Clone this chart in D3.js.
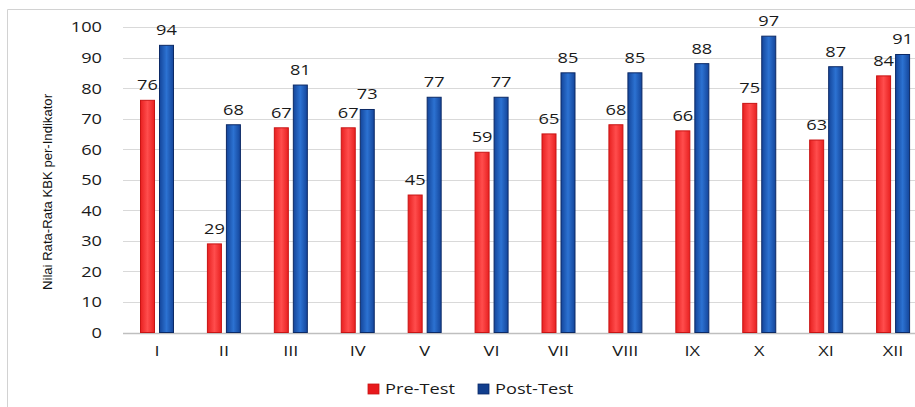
<!DOCTYPE html>
<html><head><meta charset="utf-8">
<script src="https://cdn.jsdelivr.net/npm/d3@7"></script>
<style>html,body{margin:0;padding:0;background:#fff;}svg{display:block;}</style>
</head><body>
<script>
const categories = ["I","II","III","IV","V","VI","VII","VIII","IX","X","XI","XII"];
const preTest  = [76,29,67,67,45,59,65,68,66,75,63,84];
const postTest = [94,68,81,73,77,77,85,85,88,97,87,91];
const seriesNames = ["Pre-Test","Post-Test"];
const yTicks = [0,10,20,30,40,50,60,70,80,90,100];
const yTitle = "Nilai Rata-Rata KBK per-Indikator";

const W = 915, H = 407;
const STRETCH = 1.3;
const svg = d3.select("body").append("svg").attr("width", W).attr("height", H);
const defs = svg.append("defs");
function grad(id, c0, c1) {
  const g = defs.append("linearGradient").attr("id", id).attr("x1","0").attr("x2","1").attr("y1","0").attr("y2","0");
  g.append("stop").attr("offset","0").attr("stop-color", c0);
  g.append("stop").attr("offset","0.5").attr("stop-color", c1);
  g.append("stop").attr("offset","1").attr("stop-color", c0);
}
grad("gRed", "#e82020", "#ff4d4d");
grad("gBlue", "#14459a", "#2c72d2");
const fills = {"Pre-Test":"url(#gRed)","Post-Test":"url(#gBlue)"};
const strokes = {"Pre-Test":"#c81414","Post-Test":"#0c2a66"};
const legendFill = {"Pre-Test":"#e8191c","Post-Test":"#123f8e"};

function stretch(sel) {
  sel.each(function() {
    const len = this.getComputedTextLength();
    d3.select(this).attr("textLength", len * STRETCH).attr("lengthAdjust", "spacingAndGlyphs");
  });
}

// border
svg.append("path").attr("d", `M7.5,${H} L7.5,9.5 L${W},9.5`).attr("fill","none").attr("stroke","#d2d2d2").attr("stroke-width",1);

const x0 = d3.scaleBand().domain(categories).range([123.5, 926.5]).padding(0);
const x1 = d3.scaleBand().domain(seriesNames).range([17, 50]).paddingInner(5/19).paddingOuter(0);
const y = d3.scaleLinear().domain([0,100]).range([332.5, 27]);

// grid
const grid = svg.append("g");
grid.selectAll("line").data(yTicks).join("line")
  .attr("x1", 123).attr("x2", W)
  .attr("y1", d => Math.round(y(d))+0.5).attr("y2", d => Math.round(y(d))+0.5)
  .attr("stroke", d => d===0 ? "#bfbfbf" : "#d9d9d9").attr("stroke-width", d => d===0?1.5:1);

// y axis labels
const yAxis = d3.axisLeft(y).tickValues(yTicks).tickSize(0).tickPadding(0);
const ga = svg.append("g").attr("transform","translate(102,0)").call(yAxis);
ga.select(".domain").remove();
ga.selectAll("text").attr("font-family","'Open Sans', sans-serif").attr("font-size","14px").attr("fill","#1a1a1a").attr("dy","0.35em").call(stretch);

// x axis labels
const xAxis = d3.axisBottom(x0).tickSize(0).tickPadding(0);
const gx = svg.append("g").attr("transform","translate(0,346)").call(xAxis);
gx.select(".domain").remove();
gx.selectAll("text").attr("font-family","'Open Sans', sans-serif").attr("font-size","14px").attr("fill","#1a1a1a").attr("dy","0.71em").call(stretch);

// bars
const data = categories.map((c,i) => ({cat:c, vals:[{s:"Pre-Test", v:preTest[i]},{s:"Post-Test", v:postTest[i]}]}));
const groups = svg.append("g").selectAll("g").data(data).join("g")
  .attr("transform", d => `translate(${x0(d.cat)},0)`);
groups.selectAll("rect").data(d => d.vals).join("rect")
  .attr("x", d => x1(d.s)).attr("width", x1.bandwidth())
  .attr("y", d => y(d.v)).attr("height", d => y(0) - y(d.v))
  .attr("fill", d => fills[d.s]).attr("stroke", d => strokes[d.s]).attr("stroke-width", 1);
groups.selectAll("text").data(d => d.vals).join("text")
  .attr("x", d => x1(d.s) + x1.bandwidth()/2).attr("y", d => y(d.v) - 10)
  .attr("text-anchor","middle")
  .attr("font-family","'Open Sans', sans-serif").attr("font-size","14px").attr("fill","#1a1a1a")
  .text(d => d.v).call(stretch);

// y title
svg.append("text").attr("transform","translate(52,192) rotate(-90)")
  .attr("text-anchor","middle").attr("font-family","'Liberation Sans', Arial, sans-serif")
  .attr("font-size","13px").attr("fill","#111")
  .attr("textLength", 196).attr("lengthAdjust","spacingAndGlyphs")
  .text(yTitle);

// legend
const legX = [368, 478];
const lg = svg.append("g").selectAll("g").data(seriesNames).join("g")
  .attr("transform", (d,i) => `translate(${legX[i]},384)`);
lg.append("rect").attr("width",11).attr("height",10).attr("fill", d => legendFill[d]).attr("stroke", d => strokes[d]).attr("stroke-width",0.8);
lg.append("text").attr("x",17).attr("y",5).attr("dy","0.35em")
  .attr("font-family","'Open Sans', sans-serif").attr("font-size","14px").attr("fill","#1a1a1a")
  .text(d => d).call(stretch);
</script>
</body></html>
